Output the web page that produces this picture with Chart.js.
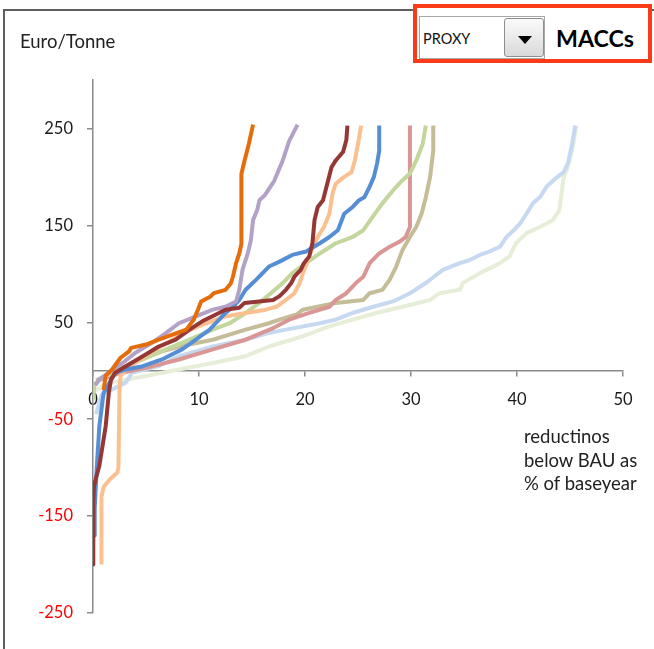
<!DOCTYPE html>
<html><head><meta charset="utf-8">
<script src="https://cdn.jsdelivr.net/npm/chart.js@4.4.0/dist/chart.umd.min.js"></script>
<style>
html,body{margin:0;padding:0;background:#fff;}
#wrap{position:relative;width:654px;height:649px;overflow:hidden;background:#fff;font-family:Lato,'Open Sans',sans-serif;}
#frame{position:absolute;left:3px;top:9px;width:900px;height:900px;border-left:2px solid #5e5e5e;border-top:2px solid #5e5e5e;}
#c{position:absolute;left:0;top:0;}
.t{position:absolute;white-space:nowrap;color:#222;}
#ytitle{left:20px;top:30px;font-size:18.5px;line-height:22px;}
#xtitle{left:524px;top:425px;font-size:18.5px;line-height:23.7px;}
#redbox{position:absolute;left:413px;top:4px;width:239px;height:59px;border:4px solid #fb3a1a;box-sizing:border-box;background:#fff;}
#combo{position:absolute;left:419px;top:16px;width:126px;height:43px;border:1px solid #a8a8a8;box-sizing:border-box;background:#fff;}
#proxy{left:423px;top:29px;font-size:14.5px;line-height:20px;color:#111;}
#btn{position:absolute;left:504px;top:18px;width:40px;height:39px;border:1px solid #8e8e8e;border-radius:3px;box-sizing:border-box;background:linear-gradient(#fbfbfb,#d9d9d9);}
#tri{position:absolute;left:518px;top:36px;width:0;height:0;border-left:7px solid transparent;border-right:7px solid transparent;border-top:8px solid #000;}
#maccs{left:556px;top:25px;font-size:23.2px;line-height:27px;font-weight:bold;color:#000;}
</style></head>
<body>
<div id="wrap">
<div id="frame"></div>
<canvas id="c" width="654" height="649"></canvas>
<div class="t" id="ytitle">Euro/Tonne</div>
<div class="t" id="xtitle">reductinos<br>below BAU as<br>% of baseyear</div>
<div id="redbox"></div>
<div id="combo"></div>
<div class="t" id="proxy">PROXY</div>
<div id="btn"></div>
<div id="tri"></div>
<div class="t" id="maccs">MACCs</div>
</div>
<script>
// x: reduction below BAU (% of base year), y: Euro/Tonne
const yTicks = [-250, -150, -50, 50, 150, 250];
const xTicks = [0, 10, 20, 30, 40, 50];

const orange = [[1.0,-20],[1.2,-5],[1.8,1.3],[2.6,13.4],[3.4,20],[3.6,23.6],[5.0,27],[6.2,32],[7.5,37.3],[8.8,42.4],[9.5,52.7],[9.9,63],[10.2,71.5],[11.1,76.7],[11.4,80],[12.5,83.5],[13.0,90],[13.2,97],[13.5,111],[13.8,121],[14.0,131],[14.0,203],[14.3,217],[14.7,234],[15.1,254]];
const purple = [[0.2,-15],[0.6,-9],[1.5,-2],[2.8,8],[4.0,18.5],[5.6,29],[6.9,39],[8.1,49],[9.7,56],[11.3,63],[12.5,66],[13.5,71.5],[13.8,83.5],[14.1,104],[14.6,121],[14.9,135],[15.1,155.5],[15.5,166],[15.7,176],[16.2,181],[17.1,196],[17.9,217],[18.5,237],[19.3,254]];
const darkRed = [[0,-200],[0.03,-135],[0.1,-118.6],[0.25,-112],[0.6,-98],[0.9,-77.5],[1.2,-57],[1.5,-22],[1.7,-9],[2.1,-2],[3.1,4.7],[4.7,15],[6.2,25],[7.8,32],[9.1,42.4],[10.3,51],[11.6,58],[12.5,63],[13.8,65],[14.3,70],[17.0,73],[17.6,77],[18.2,83.5],[18.7,90.5],[19.0,97],[19.6,104],[19.9,111],[20.4,118],[20.7,131.5],[20.9,155.5],[21.2,169],[21.7,176],[22.1,193],[22.5,210],[22.9,217],[23.6,226],[23.9,238],[24.0,253]];
const peach = [[0.8,-200],[0.8,-130],[1.0,-120],[1.6,-112],[2.3,-105],[2.4,-100],[2.5,-20],[2.6,-5.5],[3.1,1.3],[4.4,11.6],[5.9,22],[7.5,32],[9.1,42],[10.7,49],[12.5,56],[14.4,59.6],[16.3,63],[17.3,66],[18.2,73],[19.0,80],[19.5,90.5],[19.8,100.7],[20.3,114],[20.7,128],[21.2,138],[21.8,148.6],[22.3,162],[22.6,183],[22.9,193],[23.7,200],[24.4,205],[24.7,217],[25.0,234],[25.3,253]];
const blue = [[0.1,-170],[0.16,-142],[0.35,-101],[0.6,-57],[1.0,-23],[2.1,-2],[3.1,1.3],[4.7,4.7],[6.5,11.6],[8.4,22],[9.7,32],[11.0,42.4],[11.9,52.7],[12.5,59.6],[13.2,66],[13.8,73],[14.4,83.5],[15.4,94],[16.0,100.7],[16.6,107.5],[17.6,112.6],[18.8,119.5],[20.1,123],[21.4,131.5],[22.3,138],[23.1,145],[23.7,162],[24.5,169],[25.1,176],[25.6,179],[26.1,190],[26.5,200],[26.8,214],[27.0,227],[27.0,253]];
const pink = [[0.5,-10],[2.7,-2],[5.0,3],[8.1,11.6],[11.3,22],[14.4,32],[17.0,44],[18.5,52.7],[20.4,59.6],[22.3,66],[22.9,73],[23.9,80],[24.8,90.5],[25.5,97],[26.1,111],[27.0,121],[28.0,128],[28.9,133],[29.5,138],[29.9,148.6],[29.9,253]];
const lightGreen = [[0.05,-30],[0.1,-15],[0.6,-9],[2.5,1.3],[4.7,11.6],[6.9,22],[9.1,32],[11.3,42.4],[12.9,49],[14.4,59.6],[15.7,70],[17.0,82],[17.9,90.5],[18.8,100.7],[20.1,111],[21.4,121],[22.9,131.5],[24.5,138],[25.5,145],[26.4,159],[27.3,172.7],[28.3,186],[29.2,196.6],[29.9,203.5],[30.5,217],[31.1,234],[31.4,253]];
const tan = [[0.3,-10],[2.5,1.3],[5.0,15],[8.1,25],[11.3,32],[14.4,42.4],[16.6,49],[17.6,52.7],[19.2,58],[19.8,63],[22.9,70],[25.5,73],[26.1,80],[27.3,83.5],[28.0,94],[28.6,107.5],[29.2,124.7],[29.9,138],[30.5,148.6],[31.0,162],[31.4,179],[31.8,200],[32.1,227],[32.1,253]];
const lightBlue = [[0.3,-45],[0.8,-25],[3.1,-12],[3.7,-2],[6.2,4.7],[8.1,15],[11.3,25],[14.4,32],[16.6,39],[18.2,42.4],[21.4,49],[22.9,52.7],[24.5,59.6],[26.1,65],[28.3,71.5],[29.9,80],[31.4,90.5],[33.0,104],[34.6,111],[35.5,114],[36.5,119.5],[37.4,123],[38.4,128],[39.0,138],[39.7,145],[40.3,152],[40.9,162],[41.5,172.7],[42.2,179.5],[42.8,190],[43.6,198],[44.4,205],[44.8,214],[45.2,234],[45.5,253]];
const paleGreen = [[0.2,-20],[1.8,-12],[5.0,-5.5],[8.1,1.3],[11.3,8],[14.4,15],[16.6,25],[19.8,35.6],[22.3,45.8],[24.5,52.7],[26.7,59.6],[29.2,66],[31.8,73],[32.7,80],[34.6,83.5],[34.9,90.5],[36.5,100.7],[38.4,111],[39.3,118],[39.9,131.5],[40.9,142],[42.2,148.6],[43.4,155.5],[44.0,166],[44.4,200],[44.7,207],[45.2,227],[45.6,253]];

// first listed = drawn on top
const seriesList = [orange, darkRed, purple, blue, peach, lightGreen, pink, tan, lightBlue, paleGreen];
const seriesColors = ['#e46c0a','#953735','#b3a2c7','#558ed5','#fac090','#c3d69b','#d99694','#c4bd97','#c6d9f1','#e6eed8'];

const datasets = seriesList.map((s, i) => ({
  data: s.map(p => ({x: p[0], y: p[1]})),
  borderColor: seriesColors[i],
  borderWidth: 4,
  pointRadius: 0,
  fill: false,
  tension: 0
}));

const axisColor = '#8a8a8a';
const tickFont = {family: 'Lato', size: 16.5};

new Chart(document.getElementById('c'), {
  type: 'line',
  data: {datasets},
  options: {
    responsive: false,
    animation: false,
    events: [],
    layout: {padding: {top: 80, right: 31, bottom: 36, left: 0}},
    plugins: {legend: {display: false}, tooltip: {enabled: false}},
    elements: {line: {borderJoinStyle: 'round', borderCapStyle: 'butt'}},
    scales: {
      x: {
        type: 'linear', min: 0, max: 50,
        position: {y: 0},
        afterBuildTicks: s => { s.ticks = xTicks.map(v => ({value: v})); },
        grid: {display: true, drawOnChartArea: false, drawTicks: true, tickLength: 5, color: axisColor, lineWidth: 1.5},
        border: {display: true, color: axisColor, width: 1.5},
        ticks: {color: '#1a1a1a', font: tickFont, padding: 14, maxRotation: 0, autoSkip: false}
      },
      y: {
        type: 'linear', min: -250, max: 300,
        afterBuildTicks: s => { s.ticks = yTicks.map(v => ({value: v})); },
        afterFit: s => { s.width = 93; },
        grid: {display: true, drawOnChartArea: false, drawTicks: true, tickLength: 6, color: axisColor, lineWidth: 1.5},
        border: {display: true, color: axisColor, width: 1.5},
        ticks: {color: c => (c.tick && c.tick.value < 0) ? '#ff0000' : '#1a1a1a', font: tickFont, padding: 14, autoSkip: false}
      }
    }
  }
});
</script>
</body></html>
